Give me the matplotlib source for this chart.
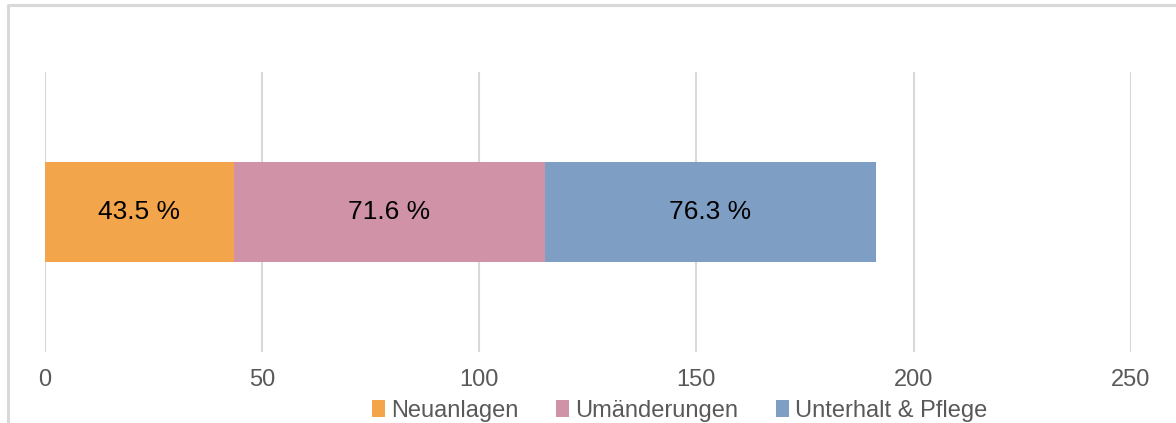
import matplotlib
matplotlib.use("Agg")
import matplotlib.pyplot as plt
from matplotlib.lines import Line2D
from matplotlib.patches import Patch

plt.rcParams['font.family'] = ['Liberation Sans', 'DejaVu Sans']

series = ["Neuanlagen", "Umänderungen", "Unterhalt & Pflege"]
values = [43.5, 71.6, 76.3]
labels = ["43.5 %", "71.6 %", "76.3 %"]
colors = ["#F2A54A", "#D092A6", "#7F9EC3"]
xticks = [0, 50, 100, 150, 200, 250]

W, H = 1176, 423
fig = plt.figure(figsize=(W / 100, H / 100), dpi=100)
ax = fig.add_axes([44.5 / W, 1 - 352 / H, (1131 - 44.5) / W, 280 / H])

left = 0
for v, lab, c, s in zip(values, labels, colors, series):
    ax.barh(0, v, left=left, height=1.0, color=c, label=s, zorder=3)
    ax.text(left + v / 2, 0, lab, ha="center", va="center", fontsize=19, color="black", zorder=4)
    left += v

ax.set_xlim(0, 250)
ax.set_ylim(-1.4, 1.4)
ax.set_xticks(xticks)
ax.set_xticklabels([str(t) for t in xticks])
ax.set_yticks([])
ax.grid(axis="x", color="#D9D9D9", linewidth=1.5, zorder=0)
for sp in ax.spines.values():
    sp.set_visible(False)
ax.tick_params(axis="x", length=0, pad=12, labelsize=17, labelcolor="#595959")

handles = [Patch(facecolor=c, edgecolor="none") for c in colors]
fig.legend(handles, series, loc="center", bbox_to_anchor=(0.578, 1 - 411 / H), ncol=3,
           frameon=False, fontsize=17, labelcolor="#595959", handlelength=0.55,
           handleheight=0.7, handletextpad=0.25, columnspacing=1.6, borderaxespad=0)

# outer chart border (partially visible)
fig.add_artist(Line2D([8 / W, 8 / W, 1.0], [0.0, 1 - 5.5 / H, 1 - 5.5 / H],
                      transform=fig.transFigure, color="#D9D9D9", linewidth=2.2))

fig.savefig("out.png", dpi=100)
